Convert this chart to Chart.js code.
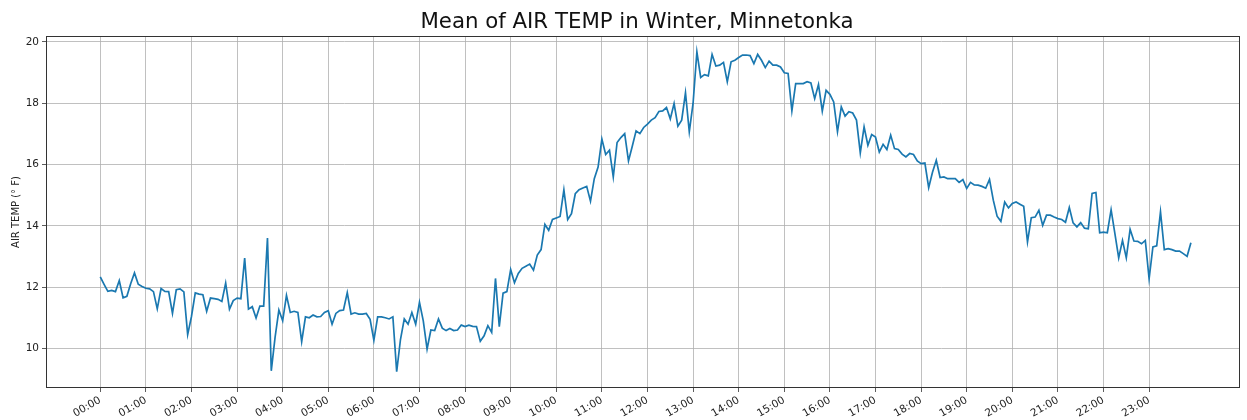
<!DOCTYPE html>
<html>
<head>
<meta charset="utf-8">
<script src="https://cdn.jsdelivr.net/npm/chart.js@4.4.1/dist/chart.umd.min.js"></script>
<style>
  html, body { margin: 0; padding: 0; background: #fff; }
  canvas { display: block; }
</style>
</head>
<body>
<canvas id="chart" width="1247" height="420"></canvas>
<script>
// Time of day for each 5-minute sample
const times = [
  "00:00","00:05","00:10","00:15","00:20","00:25","00:30","00:35","00:40","00:45","00:50","00:55",
  "01:00","01:05","01:10","01:15","01:20","01:25","01:30","01:35","01:40","01:45","01:50","01:55",
  "02:00","02:05","02:10","02:15","02:20","02:25","02:30","02:35","02:40","02:45","02:50","02:55",
  "03:00","03:05","03:10","03:15","03:20","03:25","03:30","03:35","03:40","03:45","03:50","03:55",
  "04:00","04:05","04:10","04:15","04:20","04:25","04:30","04:35","04:40","04:45","04:50","04:55",
  "05:00","05:05","05:10","05:15","05:20","05:25","05:30","05:35","05:40","05:45","05:50","05:55",
  "06:00","06:05","06:10","06:15","06:20","06:25","06:30","06:35","06:40","06:45","06:50","06:55",
  "07:00","07:05","07:10","07:15","07:20","07:25","07:30","07:35","07:40","07:45","07:50","07:55",
  "08:00","08:05","08:10","08:15","08:20","08:25","08:30","08:35","08:40","08:45","08:50","08:55",
  "09:00","09:05","09:10","09:15","09:20","09:25","09:30","09:35","09:40","09:45","09:50","09:55",
  "10:00","10:05","10:10","10:15","10:20","10:25","10:30","10:35","10:40","10:45","10:50","10:55",
  "11:00","11:05","11:10","11:15","11:20","11:25","11:30","11:35","11:40","11:45","11:50","11:55",
  "12:00","12:05","12:10","12:15","12:20","12:25","12:30","12:35","12:40","12:45","12:50","12:55",
  "13:00","13:05","13:10","13:15","13:20","13:25","13:30","13:35","13:40","13:45","13:50","13:55",
  "14:00","14:05","14:10","14:15","14:20","14:25","14:30","14:35","14:40","14:45","14:50","14:55",
  "15:00","15:05","15:10","15:15","15:20","15:25","15:30","15:35","15:40","15:45","15:50","15:55",
  "16:00","16:05","16:10","16:15","16:20","16:25","16:30","16:35","16:40","16:45","16:50","16:55",
  "17:00","17:05","17:10","17:15","17:20","17:25","17:30","17:35","17:40","17:45","17:50","17:55",
  "18:00","18:05","18:10","18:15","18:20","18:25","18:30","18:35","18:40","18:45","18:50","18:55",
  "19:00","19:05","19:10","19:15","19:20","19:25","19:30","19:35","19:40","19:45","19:50","19:55",
  "20:00","20:05","20:10","20:15","20:20","20:25","20:30","20:35","20:40","20:45","20:50","20:55",
  "21:00","21:05","21:10","21:15","21:20","21:25","21:30","21:35","21:40","21:45","21:50","21:55",
  "22:00","22:05","22:10","22:15","22:20","22:25","22:30","22:35","22:40","22:45","22:50","22:55",
  "23:00","23:05","23:10","23:15","23:20","23:25","23:30","23:35","23:40","23:45","23:50","23:55"
];

// Mean air temperature (°F) at each sample time
const airTemp = [
  12.34, 12.10, 11.87, 11.90, 11.86, 12.22, 11.66, 11.71, 12.12, 12.47, 12.10, 12.03,
  11.97, 11.95, 11.86, 11.30, 11.96, 11.87, 11.86, 11.15, 11.92, 11.95, 11.85, 10.46,
  11.05, 11.82, 11.78, 11.76, 11.22, 11.65, 11.63, 11.61, 11.54, 12.14, 11.29, 11.57,
  11.65, 11.63, 12.95, 11.29, 11.37, 11.00, 11.39, 11.39, 13.61, 9.28, 10.37, 11.26,
  10.91, 11.74, 11.18, 11.22, 11.18, 10.23, 11.04, 11.01, 11.10, 11.04, 11.05, 11.18,
  11.24, 10.80, 11.15, 11.24, 11.26, 11.83, 11.13, 11.17, 11.13, 11.13, 11.15, 10.96,
  10.28, 11.04, 11.04, 11.01, 10.97, 11.04, 9.25, 10.30, 10.97, 10.80, 11.18, 10.80,
  11.51, 10.91, 9.99, 10.61, 10.59, 10.97, 10.67, 10.59, 10.66, 10.59, 10.61, 10.77,
  10.72, 10.77, 10.73, 10.72, 10.24, 10.42, 10.75, 10.53, 12.29, 10.72, 11.81, 11.86,
  12.58, 12.15, 12.45, 12.62, 12.69, 12.76, 12.56, 13.05, 13.23, 14.05, 13.86, 14.21,
  14.26, 14.31, 15.18, 14.21, 14.40, 15.05, 15.18, 15.24, 15.29, 14.81, 15.54, 15.92,
  16.83, 16.33, 16.47, 15.60, 16.72, 16.88, 17.01, 16.12, 16.60, 17.10, 17.01, 17.21,
  17.32, 17.45, 17.53, 17.73, 17.75, 17.86, 17.49, 17.99, 17.25, 17.45, 18.34, 17.07,
  18.00, 19.67, 18.84, 18.93, 18.89, 19.59, 19.21, 19.24, 19.33, 18.70, 19.35, 19.40,
  19.49, 19.57, 19.57, 19.55, 19.29, 19.59, 19.40, 19.16, 19.37, 19.24, 19.24, 19.18,
  18.99, 18.97, 17.75, 18.64, 18.64, 18.64, 18.70, 18.66, 18.15, 18.61, 17.74, 18.42,
  18.29, 18.04, 17.07, 17.88, 17.58, 17.72, 17.68, 17.45, 16.38, 17.23, 16.63, 16.98,
  16.90, 16.41, 16.66, 16.49, 16.96, 16.52, 16.49, 16.34, 16.25, 16.36, 16.33, 16.12,
  16.03, 16.05, 15.25, 15.75, 16.14, 15.58, 15.60, 15.54, 15.54, 15.54, 15.42, 15.51,
  15.22, 15.42, 15.34, 15.33, 15.29, 15.23, 15.52, 14.84, 14.32, 14.15, 14.78, 14.59,
  14.73, 14.78, 14.71, 14.64, 13.48, 14.27, 14.29, 14.51, 14.02, 14.35, 14.35, 14.29,
  14.24, 14.21, 14.12, 14.60, 14.10, 13.97, 14.11, 13.93, 13.91, 15.06, 15.09, 13.78,
  13.80, 13.78, 14.53, 13.75, 12.96, 13.53, 12.96, 13.89, 13.51, 13.50, 13.42, 13.53,
  12.28, 13.32, 13.35, 14.46, 13.23, 13.26, 13.23, 13.18, 13.18, 13.10, 13.01, 13.45
];

// Hourly tick labels on the time axis
const hourTicks = [
  "00:00","01:00","02:00","03:00","04:00","05:00","06:00","07:00","08:00","09:00","10:00","11:00",
  "12:00","13:00","14:00","15:00","16:00","17:00","18:00","19:00","20:00","21:00","22:00","23:00"
];

// Temperature axis ticks
const tempTicks = [10, 12, 14, 16, 18, 20];

const chartTitle = 'Mean of AIR TEMP in Winter, Minnetonka';

const FONT = "'DejaVu Sans', 'Liberation Sans', sans-serif";

// "HH:MM" -> minutes after midnight
function toMinutes(s) {
  const parts = s.split(':').map(Number);
  return parts[0] * 60 + parts[1];
}

const points = times.map((t, i) => ({ x: toMinutes(t), y: airTemp[i] }));

// Thin box around the plotting area (all four sides)
const frame = {
  id: 'frame',
  afterDatasetsDraw(chart) {
    const { ctx, chartArea: a } = chart;
    ctx.save();
    ctx.strokeStyle = '#333';
    ctx.lineWidth = 1;
    ctx.strokeRect(Math.round(a.left) + 0.5, Math.round(a.top) + 0.5,
                   Math.round(a.right - a.left) - 1, Math.round(a.bottom - a.top) - 1);
    ctx.restore();
  }
};

// Title centred over the plotting area
const heading = {
  id: 'heading',
  afterDraw(chart) {
    const { ctx, chartArea: a } = chart;
    ctx.save();
    ctx.fillStyle = '#111';
    ctx.font = "21.3px " + FONT;
    ctx.textAlign = 'center';
    ctx.textBaseline = 'alphabetic';
    ctx.fillText(chartTitle, (a.left + a.right) / 2 - 6, 28);
    ctx.restore();
  }
};

new Chart(document.getElementById('chart'), {
  type: 'line',
  data: {
    datasets: [{
      data: points,
      borderColor: '#1a78b0',
      borderWidth: 1.7,
      pointRadius: 0,
      tension: 0,
      fill: false
    }]
  },
  options: {
    responsive: false,
    animation: false,
    devicePixelRatio: 1,
    layout: { padding: { left: 0, right: 7, top: 36, bottom: 0 } },
    plugins: {
      legend: { display: false },
      tooltip: { enabled: false },
      title: { display: false }
    },
    scales: {
      x: {
        type: 'linear',
        min: -71.4,
        max: 1499.6,
        afterBuildTicks(scale) {
          scale.ticks = hourTicks.map(t => ({ value: toMinutes(t) }));
        },
        afterFit(scale) { scale.height = 32; },
        ticks: {
          minRotation: 30,
          maxRotation: 30,
          autoSkip: false,
          color: '#222',
          padding: 2,
          font: { family: FONT, size: 10.5 },
          callback(value) {
            const label = hourTicks.find(t => toMinutes(t) === value);
            return label === undefined ? '' : label;
          }
        },
        grid: { color: '#b0b0b0', lineWidth: 0.8, tickColor: '#333', tickLength: 4 },
        border: { display: false }
      },
      y: {
        min: 8.72,
        max: 20.19,
        afterBuildTicks(scale) {
          scale.ticks = tempTicks.map(v => ({ value: v }));
        },
        afterFit(scale) { scale.width = 46; },
        ticks: {
          color: '#222',
          padding: 3,
          font: { family: FONT, size: 10.5 }
        },
        grid: { color: '#b0b0b0', lineWidth: 0.8, tickColor: '#333', tickLength: 4 },
        border: { display: false },
        title: {
          display: true,
          text: 'AIR TEMP (° F)',
          color: '#222',
          font: { family: FONT, size: 10 },
          padding: { top: 10, bottom: 0 }
        }
      }
    }
  },
  plugins: [frame, heading]
});
</script>
</body>
</html>
